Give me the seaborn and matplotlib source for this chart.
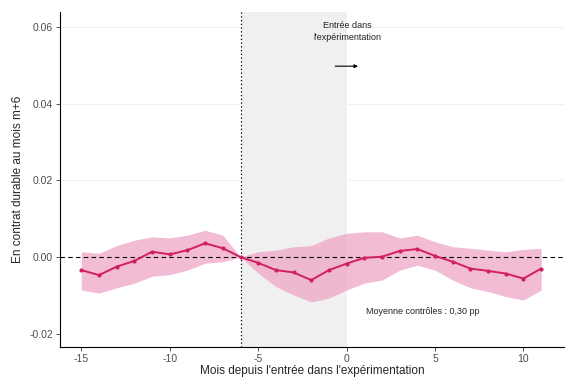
import matplotlib
matplotlib.use('Agg')
import matplotlib.pyplot as plt
import numpy as np
import pandas as pd
import seaborn as sns

# Months relative to entry in the experiment
months = list(range(-15, 12))
# Point estimates
estimate = [-0.0034, -0.0047, -0.0025, -0.0010, 0.0014, 0.0007, 0.0018, 0.0036, 0.0023, 0.0000,
            -0.0015, -0.0034, -0.0040, -0.0060, -0.0034, -0.0017, -0.0002, 0.0001, 0.0016, 0.0021,
            0.0003, -0.0012, -0.0030, -0.0036, -0.0043, -0.0056, -0.0030]
# Confidence band
ci_low = [-0.0086, -0.0094, -0.0080, -0.0068, -0.0050, -0.0046, -0.0034, -0.0016, -0.0012, 0.0000,
          -0.0042, -0.0077, -0.0099, -0.0117, -0.0107, -0.0086, -0.0068, -0.0060, -0.0034, -0.0021,
          -0.0034, -0.0060, -0.0080, -0.0090, -0.0103, -0.0112, -0.0086]
ci_high = [0.0014, 0.0010, 0.0030, 0.0044, 0.0053, 0.0050, 0.0057, 0.0070, 0.0057, 0.0000,
           0.0014, 0.0018, 0.0027, 0.0030, 0.0050, 0.0062, 0.0066, 0.0066, 0.0050, 0.0057,
           0.0040, 0.0027, 0.0023, 0.0018, 0.0014, 0.0020, 0.0023]

x_ticks = [-15, -10, -5, 0, 5, 10]
y_ticks = [-0.02, 0.00, 0.02, 0.04, 0.06]

df = pd.DataFrame({'mois': months, 'estimate': estimate, 'low': ci_low, 'high': ci_high})

sns.set_theme(style='white')
plt.rcParams['font.family'] = ['Liberation Sans', 'DejaVu Sans']

fig = plt.figure(figsize=(5.67, 3.79), dpi=100)
ax = fig.add_axes([0.106, 0.084, 0.889, 0.884])

# Pre-entry shaded period
ax.axvspan(-6, 0, color='#f0f0f0', lw=0, zorder=0)
for yt in [0.02, 0.04, 0.06]:
    ax.axhline(yt, color='#f0f0f0', lw=0.6, zorder=0)

ax.fill_between(df['mois'], df['low'], df['high'], color='#eea6c6', alpha=0.75, lw=0, zorder=1)
ax.axhline(0, color='black', ls=(0, (4, 3)), lw=0.8, zorder=2)
ax.axvline(-6, color='black', ls=(0, (1, 2)), lw=0.9, zorder=2)
sns.lineplot(data=df, x='mois', y='estimate', ax=ax, color='#d11f62', lw=1.4,
             marker='o', markersize=3, markeredgewidth=0, zorder=3)

ax.text(0.05, 0.0588, "Entrée dans\nl'expérimentation", fontsize=6.5, ha='center', va='center',
        color='#222222', linespacing=1.5)
ax.annotate('', xy=(0.8, 0.0498), xytext=(-0.8, 0.0498),
            arrowprops=dict(arrowstyle='-|>', color='black', lw=0.8, mutation_scale=5))
ax.text(1.1, -0.0143, 'Moyenne contrôles : 0,30 pp', fontsize=6.5, ha='left', va='center',
        color='#222222')

ax.set_xlim(-16.2, 12.3)
ax.set_ylim(-0.0235, 0.0639)
ax.set_xticks(x_ticks)
ax.set_xticklabels([str(t) for t in x_ticks])
ax.set_yticks(y_ticks)
ax.set_yticklabels(['%.2f' % t for t in y_ticks])
ax.tick_params(axis='both', labelsize=7.5, labelcolor='#4d4d4d', length=3, width=0.6,
               color='#333333', direction='out', pad=2, bottom=True, left=True)
ax.set_xlabel("Mois depuis l'entrée dans l'expérimentation", fontsize=8.5, labelpad=1)
ax.set_ylabel('En contrat durable au mois m+6', fontsize=8.5, labelpad=4)

sns.despine(ax=ax)
for side in ['left', 'bottom']:
    ax.spines[side].set_color('black')
    ax.spines[side].set_linewidth(0.8)

fig.savefig('out.png', dpi=100)
